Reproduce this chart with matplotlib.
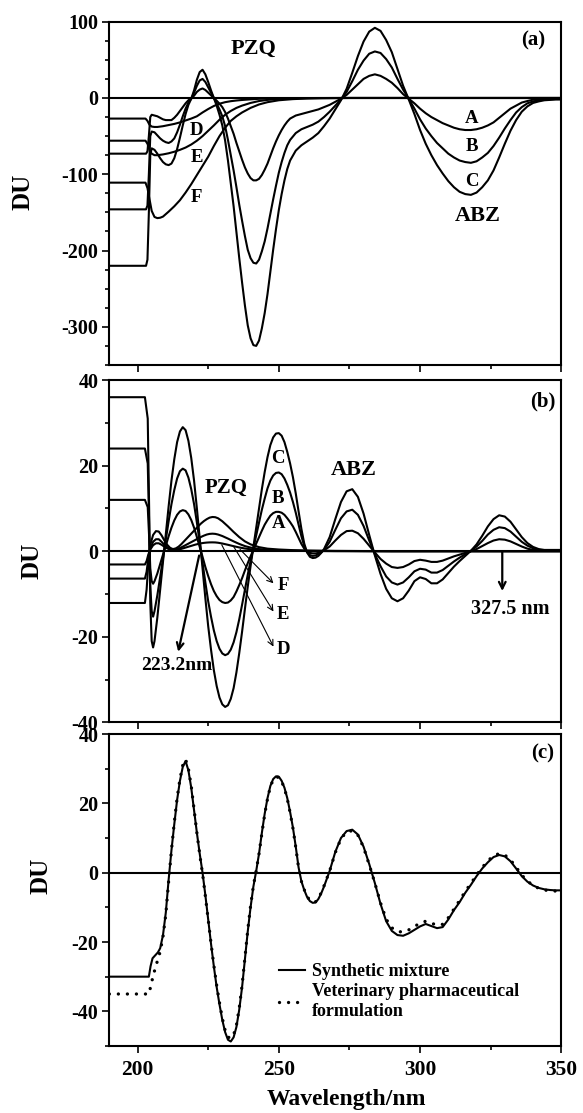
import matplotlib
matplotlib.use("Agg")
import matplotlib.pyplot as plt
from matplotlib.ticker import MultipleLocator, FixedLocator

plt.rcParams["font.family"] = ["Liberation Serif", "DejaVu Serif"]
plt.rcParams["font.weight"] = "bold"
plt.rcParams["axes.unicode_minus"] = False

# ---------------- panel (a): ratio spectra ----------------
WL_A_ABZ = [190, 203.0, 203.5, 204.0, 204.5, 205, 206, 207, 208, 209, 210, 211, 212, 213, 214,
            215, 216, 217, 218, 219, 220, 221, 222, 223, 224, 225, 226, 227, 228, 229, 230, 231,
            232, 233, 234, 235, 236, 237, 238, 239, 240, 241, 242, 243, 244, 245, 246, 247, 248,
            249, 250, 251, 252, 253, 254, 256, 258, 260, 262, 264, 266, 268, 270, 272, 274, 276,
            278, 280, 282, 284, 286, 288, 290, 292, 294, 296, 298, 300, 302, 304, 306, 308, 310,
            312, 314, 316, 318, 320, 322, 324, 326, 328, 330, 332, 334, 336, 338, 340, 342, 344,
            346, 348, 350]
ABZ_A_a = [-73, -73, -70, -50, -25, -22, -23, -24, -26, -28, -29, -29, -29, -26, -22,
           -17, -12, -7, -3, 0, 3, 8, 11, 12.5, 10.5, 7, 3.5, 0, -3.5, -7.5, -12, -18.5,
           -27, -37, -47, -59, -70, -81, -91, -99, -105, -108, -108, -106, -101, -94, -86, -76, -66,
           -57, -49, -42, -36, -31, -27, -23, -21, -19, -17, -15, -12, -9, -5, -1, 4, 11,
           18, 25, 29, 31, 29, 25, 20, 13, 5, -1, -7, -14, -20, -25, -29, -33, -36,
           -39, -41, -42, -42, -41, -39, -36, -32, -26, -20, -14, -10, -6, -4, -2.2, -1.5, -1,
           -0.8, -0.7, -0.7]
ABZ_B_a = [-146, -146, -141, -100, -50, -44, -45, -49, -53, -56, -58, -59, -57, -53, -45,
           -35, -24, -14, -6, -1, 7, 16, 23, 25, 21, 14, 7, 0, -7, -15, -24, -37,
           -55, -75, -95, -117, -140, -161, -181, -199, -210, -216, -217, -212, -201, -188, -171, -152, -133,
           -115, -98, -84, -72, -62, -55, -46, -41, -38, -35, -31, -25, -18, -10, -2, 8, 22,
           37, 49, 58, 61, 59, 51, 40, 25, 11, -1, -14, -28, -40, -50, -59, -66, -73,
           -78, -82, -84, -85, -83, -78, -72, -63, -52, -40, -29, -19, -12, -7, -4.5, -3, -2,
           -1.7, -1.4, -1.3]
ABZ_C_a = [-220, -220, -212, -150, -75, -66, -68, -73, -79, -84, -87, -88, -86, -79, -67,
           -52, -36, -21, -9, -1, 10, 24, 34, 37, 31, 21, 10, 0, -10, -22, -36, -56,
           -82, -112, -142, -176, -210, -242, -272, -298, -315, -324, -325, -318, -302, -282, -257, -228, -199,
           -172, -147, -126, -108, -93, -82, -69, -62, -57, -52, -46, -37, -27, -15, -3, 12, 33,
           55, 74, 87, 92, 88, 76, 60, 38, 16, -2, -21, -42, -60, -75, -88, -99, -109,
           -117, -123, -126, -127, -124, -117, -108, -95, -78, -60, -43, -29, -18, -11, -6.5, -4.5, -3,
           -2.5, -2, -2]

WL_A_PZQ = [190, 202.8, 203.5, 204.2, 205, 206, 207, 208, 209, 211, 213, 215, 217, 219, 221,
            223, 225, 227, 229, 231, 233, 235, 237, 240, 243, 246, 250, 255, 260, 265, 275, 300, 350]
PZQ_D_a = [-27, -27, -30, -35, -37.5, -38, -38, -37.5, -37, -35.5, -34, -32, -29.5, -27, -24,
           -19, -14.5, -10.5, -7.5, -5.5, -4.2, -3.3, -2.6, -1.8, -1.1, -0.7, -0.4, -0.2, -0.1, -0.05, 0, 0, 0]
PZQ_E_a = [-56, -56, -60, -68, -73, -75, -75, -74.5, -74, -72.5, -70.5, -68, -65, -61, -56,
           -50, -43, -36, -28.5, -22, -17, -13, -10, -6.5, -4, -2.5, -1.2, -0.5, -0.2, -0.1, 0, 0, 0]
PZQ_F_a = [-111, -111, -118, -132, -148, -156, -157.5, -157, -155.5, -149, -142, -134, -124, -113, -101,
           -89, -77, -63, -50, -39, -30, -24, -19, -13, -8.5, -5.5, -3, -1.5, -0.7, -0.3, 0, 0, 0]

# ---------------- panel (b): first derivative of ratio spectra ----------------
WL_B_ABZ = [190, 202.6, 203.6, 204.1, 204.5, 205, 205.5, 206, 207, 208, 209, 210, 211, 212, 213,
            214, 215, 216, 217, 218, 219, 220, 221, 222, 223, 224, 225, 226, 227, 228, 229, 230,
            231, 232, 233, 234, 235, 236, 237, 238, 239, 240, 241, 242, 243, 244, 245, 246, 247,
            248, 249, 250, 251, 252, 253, 254, 255, 256, 257, 258, 259, 260, 261, 262, 263, 264,
            265, 266, 268, 270, 272, 274, 276, 278, 280, 282, 284, 286, 288, 290, 292, 294, 296,
            298, 300, 302, 304, 306, 308, 310, 312, 314, 316, 318, 320, 322, 324, 326, 328, 330,
            332, 334, 336, 338, 340, 342, 344, 346, 348, 350]
ABZ_A_b = [12, 12, 10.3, 3.3, -4, -7, -7.6, -7, -5.2, -3, -0.8, 1.3, 3.5, 5.5, 7.2,
           8.5, 9.3, 9.6, 9.4, 8.6, 7.3, 5.5, 3.3, 1, -1.3, -3.7, -5.8, -7.7, -9.3, -10.5, -11.4, -11.9,
           -12.1, -12, -11.5, -10.7, -9.4, -7.9, -6.3, -4.5, -2.8, -1.2, 0.3, 1.8, 3.3, 4.8, 6.2, 7.3, 8.3,
           8.9, 9.2, 9.2, 9, 8.5, 7.7, 6.8, 5.8, 4.5, 3.1, 1.7, 0.6, -0.1, -0.4, -0.5, -0.5, -0.4,
           -0.1, 0.2, 1.1, 2.5, 3.8, 4.7, 4.8, 4.2, 2.9, 1.3, -0.3, -1.8, -2.9, -3.7, -3.9, -3.7, -3.1,
           -2.3, -2, -2.2, -2.5, -2.5, -2.2, -1.7, -1.2, -0.8, -0.4, 0, 0.5, 1.2, 1.9, 2.5, 2.8, 2.7,
           2.3, 1.7, 1.1, 0.6, 0.3, 0.2, 0.1, 0.1, 0.1, 0.1]
ABZ_B_b = [24, 24, 20.5, 6.5, -8, -14, -15.3, -14, -10.3, -6, -1.7, 2.7, 7, 11, 14.3,
           17, 18.7, 19.3, 18.9, 17.2, 14.5, 11, 6.7, 2, -2.7, -7.3, -11.7, -15.3, -18.5, -21, -22.8, -23.9,
           -24.3, -24, -23, -21.3, -18.9, -15.9, -12.5, -9, -5.5, -2.3, 0.7, 3.7, 6.7, 9.7, 12.3, 14.7, 16.5,
           17.7, 18.3, 18.4, 18, 17, 15.5, 13.7, 11.5, 9, 6.2, 3.5, 1.2, -0.2, -0.9, -1.1, -1, -0.7,
           -0.3, 0.3, 2.2, 5, 7.7, 9.3, 9.7, 8.5, 5.9, 2.5, -0.7, -3.5, -5.9, -7.3, -7.8, -7.3, -6.1,
           -4.7, -4.1, -4.3, -5, -5, -4.4, -3.4, -2.4, -1.5, -0.7, 0.1, 1.1, 2.4, 3.9, 5, 5.6, 5.4,
           4.6, 3.4, 2.2, 1.3, 0.7, 0.3, 0.2, 0.2, 0.2, 0.2]
ABZ_C_b = [36, 36, 31, 10, -12, -21, -22.5, -21, -15.5, -9, -2.5, 4, 10.5, 16.5, 21.5,
           25.5, 28, 29, 28.3, 25.8, 21.8, 16.5, 10, 3, -4, -11, -17.5, -23, -27.8, -31.5, -34.2, -35.8,
           -36.4, -36, -34.5, -32, -28.3, -23.8, -18.8, -13.5, -8.3, -3.5, 1, 5.5, 10, 14.5, 18.5, 22, 24.8,
           26.6, 27.5, 27.6, 27, 25.5, 23.2, 20.5, 17.3, 13.5, 9.3, 5.2, 1.8, -0.3, -1.3, -1.6, -1.5, -1.1,
           -0.4, 0.5, 3.3, 7.5, 11.5, 14, 14.5, 12.7, 8.8, 3.8, -1, -5.3, -8.8, -11, -11.7, -11, -9.2,
           -7, -6.1, -6.5, -7.5, -7.5, -6.6, -5.1, -3.6, -2.3, -1.1, 0.1, 1.6, 3.6, 5.8, 7.5, 8.4, 8.1,
           6.9, 5.1, 3.3, 1.9, 1, 0.5, 0.3, 0.3, 0.3, 0.3]

WL_B_PZQ = [190, 202.6, 203.2, 203.8, 204.5, 205.5, 206.5, 207.5, 208.5, 209.5, 210.5, 211.5, 212.5,
            213.5, 214.5, 215.5, 216.5, 217.5, 218.5, 219.5, 220.5, 221.5, 222.5, 223.5, 224.5,
            225.5, 226.5, 227.5, 228.5, 230, 232, 234, 236, 238, 240, 243, 246, 250, 255, 260,
            270, 290, 350]
PZQ_D_b = [-3.1, -3.1, -2.3, -0.8, 0.4, 1.4, 1.85, 1.85, 1.5, 1.05, 0.65, 0.4, 0.3,
           0.3, 0.4, 0.55, 0.75, 0.95, 1.15, 1.35, 1.55, 1.7, 1.85, 1.95, 2.02,
           2.06, 2.07, 2.05, 1.98, 1.8, 1.5, 1.18, 0.88, 0.63, 0.45, 0.28, 0.18, 0.12, 0.08, 0.05,
           0.02, 0, 0]
PZQ_E_b = [-6.4, -6.4, -4.8, -1.6, 0.6, 2.2, 2.8, 2.8, 2.2, 1.5, 0.95, 0.55, 0.35,
           0.4, 0.6, 0.9, 1.25, 1.6, 1.95, 2.3, 2.65, 3, 3.35, 3.65, 3.9,
           4.05, 4.1, 4.05, 3.9, 3.55, 2.95, 2.3, 1.7, 1.2, 0.85, 0.5, 0.32, 0.2, 0.13, 0.08,
           0.04, 0, 0]
PZQ_F_b = [-12.1, -12.1, -9, -3, 1.5, 3.8, 4.7, 4.6, 3.7, 2.5, 1.5, 0.8, 0.5,
           0.65, 1.05, 1.65, 2.35, 3.05, 3.75, 4.45, 5.15, 5.85, 6.5, 7.05, 7.5,
           7.85, 8, 7.95, 7.7, 7, 5.8, 4.5, 3.3, 2.3, 1.6, 0.95, 0.6, 0.4, 0.25, 0.15,
           0.08, 0, 0]

# ---------------- panel (c): mixture vs formulation ----------------
WL_C = [190, 204, 204.6, 205.3, 206.3, 207.2, 208, 209, 210, 211, 212, 213, 214, 215, 216,
        217, 218, 219, 220, 221, 222, 223, 224, 225, 226, 227, 228, 229, 230, 231, 232, 233,
        234, 235, 236, 237, 238, 239, 240, 241, 242, 243, 244, 245, 246, 247, 248, 249, 250,
        251, 252, 253, 254, 255, 256, 257, 258, 259, 260, 261, 262, 263, 264, 265, 266, 268,
        270, 272, 274, 276, 278, 280, 282, 284, 286, 288, 290, 292, 294, 296, 298, 300, 302,
        304, 306, 308, 310, 312, 314, 316, 318, 320, 322, 324, 326, 328, 330, 332, 334, 336,
        338, 340, 342, 344, 346, 348, 350]
SYNTH_C = [-30, -30, -27, -24.7, -23.8, -23, -21.8, -18, -11.5, -2, 6.5, 14, 21, 26.5, 30.5,
           32.2, 29.5, 24.5, 18, 11.5, 5.5, 0, -6.5, -13.5, -20.5, -27, -33, -38, -42.5, -46, -48.2, -48.7,
           -47.5, -44.5, -39.5, -33, -25, -17, -10, -4, 0.5, 5.5, 11.5, 17, 21.5, 25, 27, 27.8, 27.7,
           26.5, 24.5, 21.5, 17.5, 13, 7.5, 1.5, -2.5, -5, -7, -8.2, -8.7, -8.6, -7.6, -6, -4, 0.5,
           6, 10, 12, 12.4, 11, 7.5, 2.5, -3, -9, -14, -16.8, -18, -18.2, -17.5, -16.5, -15.5, -14.8,
           -15.4, -16, -15.7, -13.5, -10.8, -8.5, -5.8, -3.5, -1, 1.2, 3, 4.5, 5.1, 4.7, 3.3, 1.2, -1,
           -2.6, -3.7, -4.4, -4.8, -5, -5.1, -5.1]
VET_C = [-35, -35, -33, -30.5, -27.4, -25, -22.8, -18.5, -12, -2.5, 6.5, 14.5, 21.5, 27, 31,
         32.7, 30, 25, 18.3, 11.5, 5.3, -0.3, -6.8, -13.5, -20.3, -26.7, -32.5, -37.5, -42, -45.5, -47.4, -47.8,
         -46.8, -44, -39, -32.5, -24.6, -16.6, -9.6, -3.8, 0.6, 5.5, 11.3, 16.8, 21.3, 24.8, 26.8, 27.6, 27.5,
         26.3, 24.3, 21.3, 17.3, 12.8, 7.3, 1.4, -2.5, -4.9, -6.8, -8, -8.5, -8.4, -7.4, -5.8, -3.8, 0.5,
         5.8, 9.8, 11.8, 12.1, 10.8, 7.3, 2.3, -3, -8.7, -13.4, -15.9, -17, -17.1, -16.5, -15.5, -14.6, -14,
         -14.6, -15.1, -14.9, -13, -10.5, -8, -5.4, -3.1, -0.7, 1.5, 3.4, 4.9, 5.5, 5.1, 3.7, 1.6, -0.7,
         -2.4, -3.7, -4.5, -5, -5.2, -5.3, -5.3]

LINE_W = 1.5
LEFT, WIDTH = 0.1875, 0.7753


def style_axis(ax, ylim, major, minor, show_xlabels):
    """Common look for the three stacked panels."""
    ax.set_xlim(190, 350)
    ax.set_ylim(*ylim)
    ax.xaxis.set_major_locator(FixedLocator([200, 250, 300, 350]))
    ax.xaxis.set_minor_locator(FixedLocator([225, 275, 325]))
    ax.yaxis.set_major_locator(MultipleLocator(major))
    ax.yaxis.set_minor_locator(MultipleLocator(minor))
    ax.tick_params(which="both", direction="out", top=False, right=False, width=1.2)
    ax.tick_params(axis="x", which="major", length=4.8, pad=5, labelsize=15.5,
                   labelbottom=show_xlabels)
    ax.tick_params(axis="x", which="minor", length=3.1)
    ax.tick_params(axis="y", which="major", length=4.8, pad=3, labelsize=14.5)
    ax.tick_params(axis="y", which="minor", length=2.6)
    for s in ax.spines.values():
        s.set_linewidth(1.5)
    ax.axhline(0, color="black", lw=LINE_W)


fig = plt.figure(figsize=(5.83, 11.13), dpi=100)
ax_a = fig.add_axes([LEFT, 0.6721, WIDTH, 0.3084])
ax_b = fig.add_axes([LEFT, 0.3510, WIDTH, 0.3075])
ax_c = fig.add_axes([LEFT, 0.0602, WIDTH, 0.2803])

# (a)
style_axis(ax_a, (-350, 100), 100, 25, False)
for y in (ABZ_A_a, ABZ_B_a, ABZ_C_a):
    ax_a.plot(WL_A_ABZ, y, color="black", lw=LINE_W)
for y in (PZQ_D_a, PZQ_E_a, PZQ_F_a):
    ax_a.plot(WL_A_PZQ, y, color="black", lw=LINE_W)
ax_a.text(241, 64, "PZQ", fontsize=16, ha="center", va="center")
ax_a.text(340, 75, "(a)", fontsize=15, ha="center", va="center")
ax_a.text(320.3, -155, "ABZ", fontsize=16, ha="center", va="center")
for lab, yy in (("A", -27), ("B", -64), ("C", -110)):
    ax_a.text(318.3, yy, lab, fontsize=13.5, ha="center", va="center")
for lab, yy in (("D", -42), ("E", -78), ("F", -130)):
    ax_a.text(221, yy, lab, fontsize=13.5, ha="center", va="center")
ax_a.text(-0.191, 0.505, "DU", transform=ax_a.transAxes, rotation=90,
          fontsize=18, ha="center", va="center")

# (b)
style_axis(ax_b, (-40, 40), 20, 10, False)
for y in (ABZ_A_b, ABZ_B_b, ABZ_C_b):
    ax_b.plot(WL_B_ABZ, y, color="black", lw=LINE_W)
for y in (PZQ_D_b, PZQ_E_b, PZQ_F_b):
    ax_b.plot(WL_B_PZQ, y, color="black", lw=LINE_W)
ax_b.text(231.2, 14.8, "PZQ", fontsize=15, ha="center", va="center")
ax_b.text(276.6, 18.9, "ABZ", fontsize=16, ha="center", va="center")
ax_b.text(343.4, 34.9, "(b)", fontsize=15, ha="center", va="center")
for lab, yy in (("C", 21.7), ("B", 12.3), ("A", 6.5)):
    ax_b.text(249.8, yy, lab, fontsize=13.5, ha="center", va="center")
thin = dict(arrowstyle="->", lw=0.8, color="black", shrinkA=0, shrinkB=0, mutation_scale=10)
for lab, start, tip in (("F", (236.3, 0.4), (248.1, -7.5)),
                        ("E", (234.0, 1.1), (248.1, -14.1)),
                        ("D", (229.8, 1.5), (248.1, -22.3))):
    ax_b.annotate("", xy=tip, xytext=start, arrowprops=thin)
    ax_b.text(tip[0] + 3.4, tip[1] - 0.6, lab, fontsize=13.5, ha="center", va="center")
thick = dict(arrowstyle="->", lw=1.6, color="black", shrinkA=0, shrinkB=0, mutation_scale=12)
ax_b.annotate("", xy=(214.4, -23.5), xytext=(221.8, -1.0), arrowprops=thick)
ax_b.text(213.9, -26.8, "223.2nm", fontsize=14, ha="center", va="center")
ax_b.annotate("", xy=(329.1, -9.3), xytext=(329.1, 0), arrowprops=thick)
ax_b.text(332.1, -13.4, "327.5 nm", fontsize=14.5, ha="center", va="center")
ax_b.text(-0.170, 0.472, "DU", transform=ax_b.transAxes, rotation=90,
          fontsize=18, ha="center", va="center")

# (c)
style_axis(ax_c, (-50, 40), 20, 10, True)
ax_c.plot(WL_C, SYNTH_C, color="black", lw=LINE_W, label="Synthetic mixture")
ax_c.plot(WL_C, VET_C, color="black", lw=2.4, linestyle=(0, (0.01, 2.7)),
          dash_capstyle="round", label="Veterinary pharmaceutical\nformulation")
ax_c.legend(loc="upper left", bbox_to_anchor=(0.376, 0.265), frameon=False, fontsize=13,
            handlelength=1.45, handletextpad=0.36, labelspacing=0.15, borderpad=0,
            borderaxespad=0)
ax_c.text(343.4, 34.5, "(c)", fontsize=15, ha="center", va="center")
ax_c.text(-0.151, 0.546, "DU", transform=ax_c.transAxes, rotation=90,
          fontsize=18, ha="center", va="center")
ax_c.text(0.525, -0.173, "Wavelength/nm", transform=ax_c.transAxes,
          fontsize=17, ha="center", va="center")

fig.savefig("out.png", dpi=100)
plt.close(fig)
